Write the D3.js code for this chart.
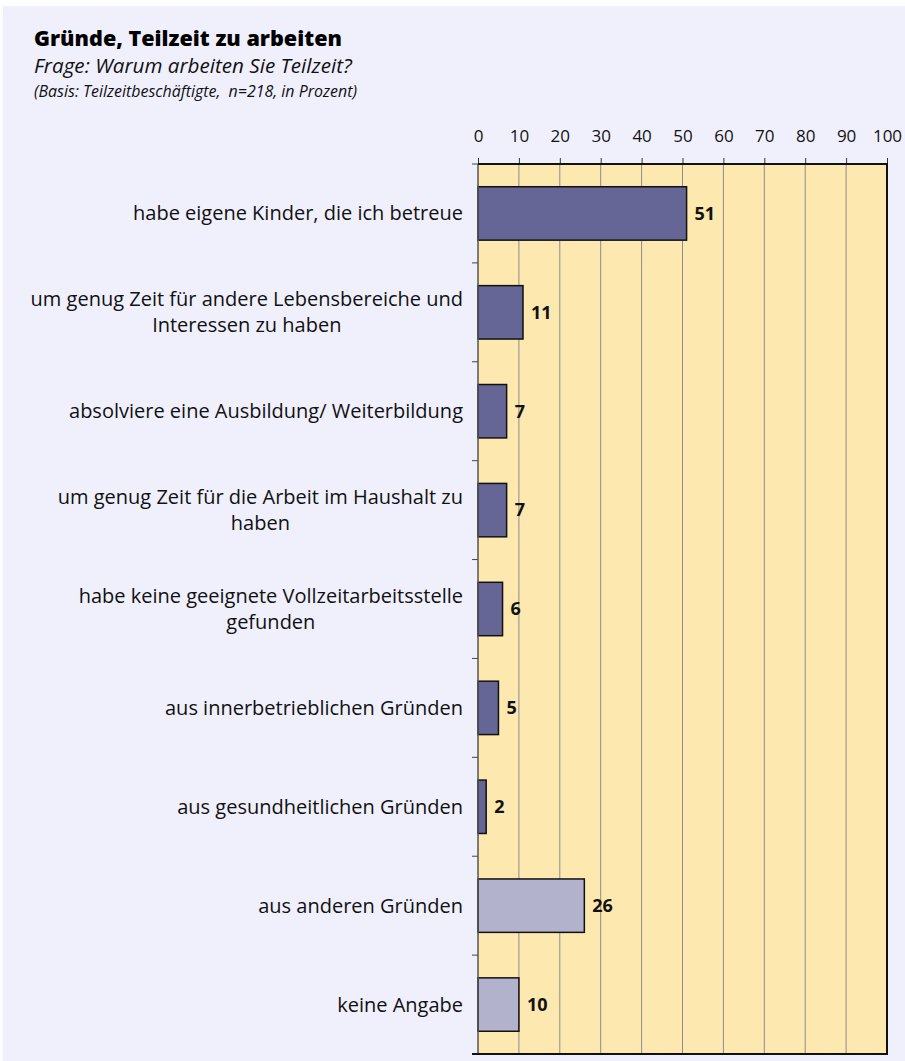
<!DOCTYPE html>
<html><head><meta charset="utf-8">
<script src="https://cdn.jsdelivr.net/npm/d3@7"></script>
<style>
html,body{margin:0;padding:0;background:#fff;}
svg{display:block;}
text{font-family:"Open Sans",Lato,sans-serif;}
</style></head>
<body>
<script>
const categories = [
  ["habe eigene Kinder, die ich betreue"],
  ["um genug Zeit für andere Lebensbereiche und", "Interessen zu haben"],
  ["absolviere eine Ausbildung/ Weiterbildung"],
  ["um genug Zeit für die Arbeit im Haushalt zu", "haben"],
  ["habe keine geeignete Vollzeitarbeitsstelle", "gefunden"],
  ["aus innerbetrieblichen Gründen"],
  ["aus gesundheitlichen Gründen"],
  ["aus anderen Gründen"],
  ["keine Angabe"]
];
const values = [51, 11, 7, 7, 6, 5, 2, 26, 10];
const groups = ["main","main","main","main","main","main","main","other","other"];
const ticks = [0,10,20,30,40,50,60,70,80,90,100];
const title = "Gründe, Teilzeit zu arbeiten";
const subtitle = "Frage: Warum arbeiten Sie Teilzeit?";
const basis = "(Basis: Teilzeitbeschäftigte,  n=218, in Prozent)";

const W = 905, H = 1061;
const svg = d3.select("body").append("svg").attr("width", W).attr("height", H);

svg.append("rect").attr("x",3).attr("y",6).attr("width",W-3).attr("height",H-6).attr("fill","#f0f0fd");

const x = d3.scaleLinear().domain([0,100]).range([478, 887]);
const ids = categories.map((c,i)=>i);
const y = d3.scaleBand().domain(ids).range([164, 1054]).paddingInner(0.46).paddingOuter(0.23);

function fit(sel, target){
  const w = sel.node().getComputedTextLength();
  const fs = +sel.attr("font-size");
  sel.attr("font-size", (fs*target/w).toFixed(2));
}

const t1 = svg.append("text").attr("x",34).attr("y",46).attr("font-size",20).attr("font-weight",800).attr("fill","#000").text(title);
fit(t1, 308);
const t2 = svg.append("text").attr("x",34).attr("y",73).attr("font-size",18).attr("font-style","italic").attr("fill","#111").text(subtitle);
fit(t2, 318);
const t3 = svg.append("text").attr("x",34).attr("y",97).attr("font-size",13).attr("font-style","italic").attr("fill","#111").attr("xml:space","preserve").text(basis);
fit(t3, 323);

// plot background
svg.append("rect").attr("x",x(0)).attr("y",164).attr("width",x(100)-x(0)).attr("height",1054-164).attr("fill","#fde8b0");

// grid lines
svg.append("g").selectAll("line").data(ticks.slice(1,-1)).join("line")
  .attr("x1",d=>x(d)).attr("x2",d=>x(d)).attr("y1",164).attr("y2",1054)
  .attr("stroke","#8c8c8c").attr("stroke-width",1);

// top axis
const ax = svg.append("g").attr("transform","translate(0,164)")
  .call(d3.axisTop(x).tickValues(ticks).tickSize(6).tickPadding(16));
ax.select(".domain").remove();
ax.selectAll(".tick line").attr("stroke","#333");
ax.selectAll(".tick text").attr("font-size",17).attr("fill","#111").attr("font-family","'Open Sans', sans-serif");

// bars
const step = y.step();
svg.append("g").selectAll("rect").data(values).join("rect")
  .attr("x",x(0)).attr("y",(d,i)=>y(i)).attr("width",d=>x(d)-x(0)).attr("height",y.bandwidth())
  .attr("fill",(d,i)=>groups[i]==="main"?"#656696":"#b2b2cd")
  .attr("stroke","#111").attr("stroke-width",1.5);

// value labels
svg.append("g").selectAll("text").data(values).join("text")
  .attr("x",d=>x(d)+8).attr("y",(d,i)=>y(i)+y.bandwidth()/2).attr("dy","0.35em")
  .attr("font-size",18).attr("font-weight",700).attr("fill","#111").text(d=>d);

// left axis separators
const sepY = d3.range(categories.length+1).map(i=>164 + i*step);
svg.append("g").selectAll("line").data(sepY).join("line")
  .attr("x1",472).attr("x2",x(0)).attr("y1",d=>d).attr("y2",d=>d).attr("stroke","#444").attr("stroke-width",1);
svg.append("line").attr("x1",x(0)).attr("x2",x(0)).attr("y1",164).attr("y2",1054).attr("stroke","#555").attr("stroke-width",1.5);

// frame top/right/bottom
svg.append("path").attr("d",`M${x(0)},164H${x(100)}V1054H${x(0)-6}`).attr("fill","none").attr("stroke","#111").attr("stroke-width",2);

// category labels
const probe = svg.append("text").attr("font-size",16).text(categories[0][0]);
const labelFs = 16*330/probe.node().getComputedTextLength();
probe.remove();
const lg = svg.append("g");
categories.forEach((lines,i)=>{
  const cy = y(i)+y.bandwidth()/2;
  const lh = 26;
  const g = lg.append("g");
  const texts = lines.map((l,j)=> g.append("text").attr("font-size",labelFs.toFixed(2)).attr("fill","#111")
     .attr("text-anchor","middle").attr("y", cy + (j-(lines.length-1)/2)*lh).attr("dy","0.35em").text(l));
  const wmax = d3.max(texts, t=>t.node().getComputedTextLength());
  texts.forEach(t=>t.attr("x", 463 - wmax/2));
});
</script>
</body></html>
